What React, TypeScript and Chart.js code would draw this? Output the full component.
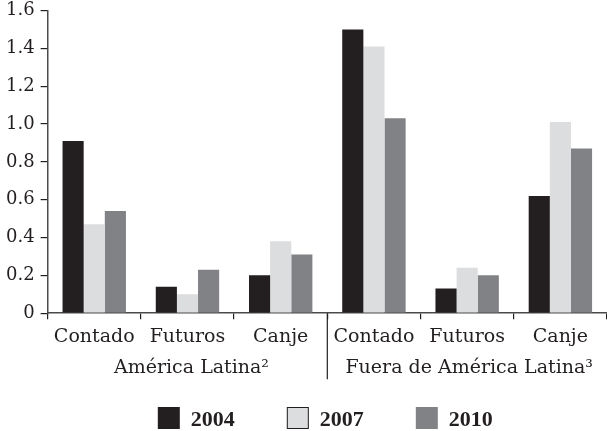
import React, { useEffect, useRef } from 'react';
import { Chart, registerables } from 'chart.js';

Chart.register(...registerables);

const categories = ['Contado', 'Futuros', 'Canje', 'Contado', 'Futuros', 'Canje'];
const groupLabels = ['América Latina²', 'Fuera de América Latina³'];
const years = ['2004', '2007', '2010'];
const values2004 = [0.91, 0.14, 0.2, 1.5, 0.13, 0.62];
const values2007 = [0.47, 0.1, 0.38, 1.41, 0.24, 1.01];
const values2010 = [0.54, 0.23, 0.31, 1.03, 0.2, 0.87];
const yMin = 0;
const yMax = 1.6;
const yStep = 0.2;

const INK = '#231f20';
const AXIS = '#4a4a4c';
const SERIF = "'DejaVu Serif', serif";
const LEGEND_FONT = "bold 22px 'Liberation Serif', serif";
const colors = ['#231f20', '#dcdddf', '#808285'];

const groupPlugin = {
  id: 'groupLabels',
  afterDraw(chart: any) {
    const x = chart.scales.x;
    const ctx = chart.ctx;
    const { bottom, left, right } = chart.chartArea;
    const mid = (x.getPixelForValue(2) + x.getPixelForValue(3)) / 2;
    ctx.save();
    ctx.strokeStyle = INK;
    ctx.lineWidth = 1.2;
    ctx.beginPath();
    ctx.moveTo(mid, bottom);
    ctx.lineTo(mid, bottom + 66);
    ctx.stroke();
    ctx.font = `19px ${SERIF}`;
    ctx.fillStyle = INK;
    ctx.textAlign = 'center';
    ctx.textBaseline = 'alphabetic';
    ctx.fillText(groupLabels[0], (x.getPixelForValue(0) + x.getPixelForValue(2)) / 2 + 4, bottom + 60);
    ctx.fillText(groupLabels[1], (x.getPixelForValue(3) + x.getPixelForValue(5)) / 2 + 2, bottom + 60);

    // legend
    ctx.font = LEGEND_FONT;
    const box = 22;
    const gap = 11;
    const spacing = 52;
    const widths = years.map((t) => box + gap + ctx.measureText(t).width);
    const total = widths.reduce((a, b) => a + b, 0) + spacing * (years.length - 1);
    let cx = (left + right) / 2 - 2 - total / 2;
    const boxTop = chart.height - 24;
    const baseline = chart.height - 5;
    ctx.textAlign = 'left';
    years.forEach((t, i) => {
      ctx.fillStyle = colors[i];
      ctx.fillRect(cx, boxTop, box, box);
      if (i === 1) {
        ctx.strokeStyle = INK;
        ctx.lineWidth = 1;
        ctx.strokeRect(cx + 0.5, boxTop + 0.5, box - 1, box - 1);
      }
      ctx.fillStyle = INK;
      ctx.fillText(t, cx + box + gap, baseline);
      cx += widths[i] + spacing;
    });
    ctx.restore();
  },
};

export default function App() {
  const ref = useRef<HTMLCanvasElement | null>(null);

  useEffect(() => {
    if (!ref.current) return;
    const chart = new Chart(ref.current, {
      type: 'bar',
      data: {
        labels: categories,
        datasets: [
          { label: years[0], data: values2004, backgroundColor: colors[0], borderWidth: 0 },
          { label: years[1], data: values2007, backgroundColor: colors[1], borderWidth: 0 },
          { label: years[2], data: values2010, backgroundColor: colors[2], borderWidth: 0 },
        ],
      },
      options: {
        animation: false,
        responsive: false,
        devicePixelRatio: 1,
        datasets: { bar: { categoryPercentage: 0.68, barPercentage: 1.0 } },
        layout: { padding: { left: 0, top: 10, right: 0, bottom: 45 } },
        scales: {
          x: {
            grid: { drawOnChartArea: false, drawTicks: true, tickLength: 6, offset: true, color: INK, lineWidth: 1.2 },
            border: { display: true, color: AXIS, width: 1.5 },
            ticks: { font: { family: SERIF, size: 19 }, color: INK, padding: 6, maxRotation: 0, autoSkip: false },
            afterFit: (s: any) => {
              s.height += 32;
            },
          },
          y: {
            min: yMin,
            max: yMax,
            grid: { drawOnChartArea: false, drawTicks: true, tickLength: 7, color: INK, lineWidth: 1.2 },
            border: { display: true, color: AXIS, width: 1.5 },
            ticks: {
              stepSize: yStep,
              font: { family: SERIF, size: 18, lineHeight: 0.5 },
              color: INK,
              padding: 6,
              callback: (v: any) => (Number(v) === 0 ? '0' : Number(v).toFixed(1)),
            },
          },
        },
        plugins: {
          tooltip: { enabled: false },
          legend: { display: false },
        },
      },
      plugins: [groupPlugin],
    });
    return () => chart.destroy();
  }, []);

  return (
    <div style={{ position: 'fixed', left: 0, top: 0, width: 607, height: 431, background: '#fff' }}>
      <canvas ref={ref} width={607} height={431} style={{ display: 'block' }} />
    </div>
  );
}
